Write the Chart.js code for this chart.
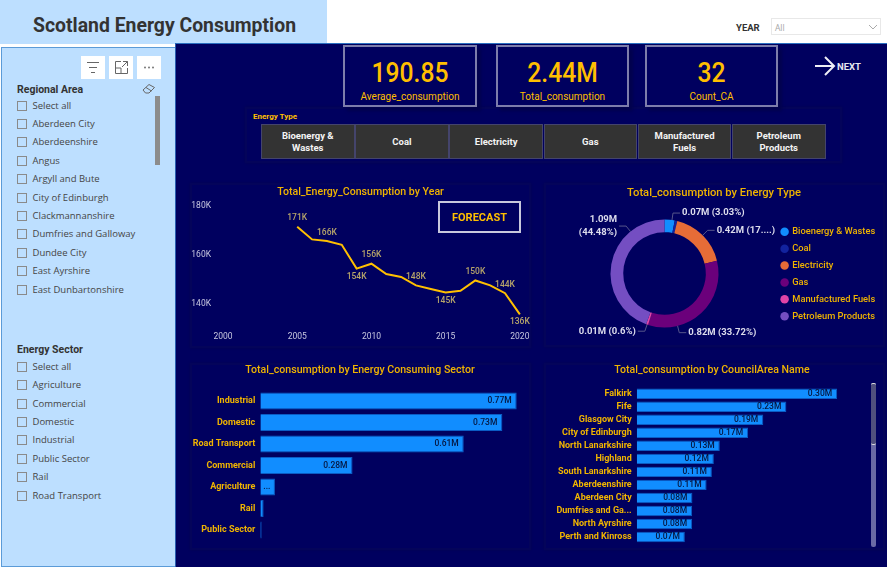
<!DOCTYPE html>
<html><head><meta charset="utf-8">
<script src="https://cdn.jsdelivr.net/npm/chart.js@4/dist/chart.umd.min.js"></script>
<style>
html,body{margin:0;padding:0;width:887px;height:567px;overflow:hidden;background:#fff;font-family:'Open Sans',sans-serif}
.a{position:absolute;box-sizing:border-box}
.t{position:absolute;white-space:nowrap;line-height:1}
canvas{position:absolute}
.panel{position:absolute;box-sizing:border-box;background:#00005f;border:2px solid #04045a;box-shadow:0 0 2px #05054f}
.card{position:absolute;box-sizing:border-box;top:45px;height:62px;background:#00005f;border:2px solid #7d7dab;box-shadow:4px 4px 3px #02024e;text-align:center;color:#ffbf00;font-family:Roboto}
.card b{display:block;font-weight:500;font-size:28px;line-height:28px;margin-top:12px;transform:scaleX(.88)}
.card span{display:block;font-size:10px;line-height:12px;margin-top:4px}
.btn{position:absolute;top:124px;height:35px;background:#333;border:1px solid #44446c;color:#f4f4f4;font:700 9.5px/12px Roboto;display:flex;align-items:center;justify-content:center;text-align:center;box-sizing:border-box;padding:0 12px}
.cb{position:absolute;left:17px;width:10px;height:10px;border:1px solid #8a8a8a;box-sizing:border-box}
.it{position:absolute;left:32.5px;font:9.5px/12px 'Open Sans';color:#454545;white-space:nowrap}
.hd{position:absolute;left:17px;font:700 10.5px/12px Roboto;color:#333;white-space:nowrap}
.ic{position:absolute;top:56px;width:24px;height:23px;background:#fff}
</style></head><body>
<div class="a" style="left:0;top:0;width:327px;height:44px;background:#bddfff"></div>
<div class="t" style="left:33px;top:16px;font:700 19.4px/20px Roboto;color:#333">Scotland Energy Consumption</div>
<div class="t" style="left:736px;top:22px;font:700 9.5px/11px Roboto;color:#333">YEAR</div>
<div class="a" style="left:771px;top:18px;width:110px;height:17px;border:1px solid #e8e8e8;background:#fff"></div>
<div class="t" style="left:775px;top:23px;font:8.5px/10px 'Open Sans';color:#a6a6a6">All</div>
<svg class="a" style="left:868px;top:24px" width="10" height="7"><path d="M1 1L5 5L9 1" fill="none" stroke="#aaa"/></svg>

<div class="a" style="left:1px;top:47px;width:175px;height:520px;background:#bddfff;border:1px solid #5b9bd8"></div>
<div id="slicers"></div>
<div class="ic" style="left:81px"><svg width="24" height="23"><path d="M6 6.5H18M8 11.5H16M10 16.5H14" stroke="#666" fill="none"/></svg></div>
<div class="ic" style="left:109px"><svg width="24" height="23"><path d="M12 5.5H6.5V17.5H18.500V12M6.500 12H12V17.500M14 5.500H18.500V10M18.500 5.500L13 11" stroke="#666" fill="none"/></svg></div>
<div class="ic" style="left:137px"><svg width="24" height="23"><circle cx="8" cy="11.500" r="1" fill="#777"/><circle cx="12" cy="11.500" r="1" fill="#777"/><circle cx="16" cy="11.500" r="1" fill="#777"/></svg></div>
<svg class="a" style="left:142px;top:83px" width="14" height="12"><path d="M1 7L7 1.500L12.500 4.500L7 10H3.500Z M4 4.500L9.500 8" fill="none" stroke="#666"/></svg>
<div class="a" style="left:155px;top:96px;width:5px;height:69px;background:#8c8c8c"></div>

<div class="a" style="left:175px;top:43px;width:712px;height:524px;background:#00005f;border-top:1px solid #2a6fc0;border-left:1px solid #2a5fb0"></div>
<div class="panel" style="left:190px;top:183px;width:341px;height:165px"></div>
<div class="panel" style="left:544px;top:183px;width:341px;height:164px"></div>
<div class="panel" style="left:190px;top:363px;width:341px;height:187px"></div>
<div class="panel" style="left:544px;top:363px;width:341px;height:187px"></div>
<div class="panel" style="left:245px;top:107px;width:597px;height:56px"></div>

<div class="card" style="left:343px;width:134px"><b>190.85</b><span>Average_consumption</span></div>
<div class="card" style="left:496px;width:133px"><b>2.44M</b><span>Total_consumption</span></div>
<div class="card" style="left:645px;width:133px"><b>32</b><span>Count_CA</span></div>
<div class="t" style="left:253px;top:112px;font:700 8px/9px Roboto;color:#ffbf00">Energy Type</div>
<div id="btns"></div>
<svg class="a" style="left:814px;top:55px" width="24" height="22"><path d="M1 11H20M11 2L20 11L11 20" fill="none" stroke="#eeeef6" stroke-width="2"/></svg>
<div class="t" style="left:837px;top:62px;font:700 9.500px/10px Roboto;color:#e6e6f0">NEXT</div>

<div class="a" style="left:438px;top:201px;width:83px;height:32px;border:2px solid #c8c8dc;color:#ffbf00;font:700 11px/29px Roboto;text-align:center;z-index:3">FORECAST</div>
<div class="a" style="left:870.500px;top:383px;width:5px;height:164px;background:#6a6aa6;border-radius:2px"></div>
<div class="a" style="left:870.500px;top:383px;width:5px;height:62px;background:#50507e;border:1px solid #ddd;border-width:1px 0;border-radius:2px"></div>

<canvas id="cLine" width="341" height="164" style="left:190px;top:183px"></canvas>
<canvas id="cDonut" width="340" height="164" style="left:544px;top:183px"></canvas>
<canvas id="cSector" width="340" height="185" style="left:190px;top:360px"></canvas>
<canvas id="cCouncil" width="336" height="190" style="left:544px;top:360px"></canvas>

<script>
// ---- data ----
const years = [2005,2006,2007,2008,2009,2010,2011,2012,2013,2014,2015,2016,2017,2018,2019,2020];
const yearValues = [171.4,166.3,165.6,164.1,154.4,156.4,152.2,151,147.6,146.1,144.7,145.4,149.6,147.6,144.4,135.8];
const yearLabelled = [2005,2007,2009,2010,2013,2015,2017,2019,2020];
const yearLabelledBelow = [2009,2015,2020];
const yearAxisX = [2000,2005,2010,2015,2020];
const yearAxisY = [140,160,180];

const energyTypes = ['Bioenergy & Wastes','Coal','Electricity','Gas','Manufactured Fuels','Petroleum Products'];
const energyValues = [0.074,0.019,0.424,0.823,0.0146,1.085];
const energyLabels = ['0.07M (3.03%)','','0.42M (17....)','0.82M (33.72%)','0.01M (0.6%)','1.09M\n(44.48%)'];
const energyColors = ['#118DFF','#12239E','#E66C37','#6B007B','#E044A7','#744EC2'];
const energyLeaderAngle = [8,null,45,166,null,321];

const sectors = ['Industrial','Domestic','Road Transport','Commercial','Agriculture','Rail','Public Sector'];
const sectorValues = [0.77,0.727,0.611,0.277,0.044,0.01,0.004];

const councils = ['Falkirk','Fife','Glasgow City','City of Edinburgh','North Lanarkshire','Highland','South Lanarkshire','Aberdeenshire','Aberdeen City','Dumfries and Ga...','North Ayrshire','Perth and Kinross'];
const councilValues = [0.304,0.227,0.192,0.169,0.126,0.117,0.114,0.106,0.0845,0.084,0.084,0.073];

const regionItems = ['Select all','Aberdeen City','Aberdeenshire','Angus','Argyll and Bute','City of Edinburgh','Clackmannanshire','Dumfries and Galloway','Dundee City','East Ayrshire','East Dunbartonshire'];
const sectorItems = ['Select all','Agriculture','Commercial','Domestic','Industrial','Public Sector','Rail','Road Transport'];
const energyButtons = ['Bioenergy & Wastes','Coal','Electricity','Gas','Manufactured Fuels','Petroleum Products'];

// ---- page furniture ----
const GOLD='#f0b400';
function slicer(title,items,headY,firstY){
  let h='<div class="hd" style="top:'+(headY-6)+'px">'+title+'</div>';
  items.forEach((s,i)=>{const y=firstY+i*18.4;
    h+='<div class="cb" style="top:'+(y-5)+'px"></div><div class="it" style="top:'+(y-6)+'px">'+s+'</div>';});
  return h;
}
document.getElementById('slicers').innerHTML=slicer('Regional Area',regionItems,90,105.5)+slicer('Energy Sector',sectorItems,349.5,366.7);
document.getElementById('btns').innerHTML=energyButtons.map((s,i)=>'<div class="btn" style="left:'+(261+i*94.2)+'px;width:93.500px">'+s.replace('&','&amp;')+'</div>').join('');

Chart.defaults.font.family='Roboto';
Chart.defaults.animation=false;
const titleOpt=(text,top,bottom,size)=>({display:true,text,color:GOLD,font:{size:size||10.6,weight:'500',family:'Roboto'},padding:{top,bottom}});
const noPad=s=>{s.paddingTop=s.paddingBottom=s.paddingLeft=s.paddingRight=0};

// ---- line ----
new Chart('cLine',{type:'line',
  data:{datasets:[{data:years.map((y,i)=>({x:y,y:yearValues[i]})),borderColor:'#ffc000',borderWidth:2,pointRadius:0,tension:0}]},
  options:{responsive:false,
    plugins:{legend:{display:false},tooltip:{enabled:false},title:titleOpt('Total_Energy_Consumption by Year',2.8,7.2)},
    scales:{
      x:{type:'linear',min:2000,max:2020.75,grid:{display:false,drawTicks:false},border:{display:false},
         afterBuildTicks:s=>{s.ticks=yearAxisX.map(v=>({value:v}))},
         afterFit:s=>{s.height=18.4;noPad(s)},
         ticks:{color:'#c8c8e0',font:{size:8.5},padding:3,maxRotation:0,autoSkip:false,callback:v=>String(v)}},
      y:{min:130,max:180,grid:{display:false,drawTicks:false},border:{display:false},
         afterBuildTicks:s=>{s.ticks=yearAxisY.map(v=>({value:v}))},
         afterFit:s=>{s.width=33;noPad(s)},
         ticks:{color:'#c8c8e0',font:{size:8.5},padding:12,callback:v=>v+'K'}}
    }},
  plugins:[{id:'yearLabels',afterDatasetsDraw(c){
    const g=c.ctx;g.save();g.font='500 8.5px Roboto';g.fillStyle='#b7a56a';g.textAlign='center';g.textBaseline='middle';
    yearLabelled.forEach(y=>{const i=years.indexOf(y),v=yearValues[i];
      const px=c.scales.x.getPixelForValue(y),py=c.scales.y.getPixelForValue(v);
      const below=yearLabelledBelow.includes(y);
      g.fillText(Math.round(v)+'K',px,py+(below?8:-8.500));});
    g.restore();}}]
});

// ---- doughnut ----
new Chart('cDonut',{type:'doughnut',
  data:{labels:energyTypes,datasets:[{data:energyValues,backgroundColor:energyColors,borderWidth:0,radius:54,cutout:'76.5%'}]},
  options:{responsive:false,
    plugins:{tooltip:{enabled:false},title:titleOpt('Total_consumption by Energy Type',3.5,0,11.2),
      legend:{position:'right',align:'center',labels:{color:GOLD,font:{size:9.300,weight:'500'},usePointStyle:true,pointStyle:'circle',boxWidth:6,boxHeight:6,padding:7.600}}}},
  plugins:[{id:'fixLegend',beforeUpdate(c){
      if(c.legend&&!c.legend.__p){c.legend.__p=1;const f=c.legend.fit;c.legend.fit=function(){f.call(this);this.width=99;};}
    },
    afterLayout(c){ c.legend.left-=11; c.legend.top+=9; c.legend.bottom+=9; },
    afterDatasetsDraw(c){
    const arcs=c.getDatasetMeta(0).data,g=c.ctx;g.save();
    g.font='700 9.500px Roboto';g.textBaseline='middle';
    arcs.forEach((a,i)=>{ if(!energyLabels[i])return;
      const mid=(a.startAngle+a.endAngle)/2;
      const ang=energyLeaderAngle[i]==null?mid:energyLeaderAngle[i]*Math.PI/180-Math.PI/2;
      const cx=a.x,cy=a.y,r=a.outerRadius;
      const x0=cx+Math.cos(ang)*r,y0=cy+Math.sin(ang)*r,x1=cx+Math.cos(ang)*(r+7),y1=cy+Math.sin(ang)*(r+7);
      const dir=Math.cos(ang)>=0?1:-1,x2=x1+dir*7;
      g.strokeStyle='#55558a';g.lineWidth=1;g.beginPath();g.moveTo(x0,y0);g.lineTo(x1,y1);g.lineTo(x2,y1);g.stroke();
      g.fillStyle='#dcdcec';g.textAlign=dir>0?'left':'right';
      const ls=energyLabels[i].split('\n');
      ls.forEach((s,k)=>g.fillText(s,x2+dir*2,y1+(k-(ls.length-1)/2)*13));
    });g.restore();}}]
});

// ---- bars ----
function barChart(id,labels,values,max,yW,title,tTop,tBottom,barPct,bottomPad){
  return new Chart(id,{type:'bar',
    data:{labels,datasets:[{data:values,backgroundColor:'#118DFF',borderColor:'#0b5cc4',borderWidth:1,barPercentage:barPct,categoryPercentage:1}]},
    options:{indexAxis:'y',responsive:false,layout:{padding:{bottom:bottomPad}},
      plugins:{legend:{display:false},tooltip:{enabled:false},title:titleOpt(title,tTop,tBottom)},
      scales:{
        x:{display:false,min:0,max},
        y:{grid:{display:false,drawTicks:false},border:{display:false},afterFit:s=>{s.width=yW;noPad(s)},
           ticks:{color:GOLD,font:{size:9,weight:'700'},padding:5,autoSkip:false}}
      }},
    plugins:[{id:'vals',afterDatasetsDraw(c){
      const g=c.ctx,els=c.getDatasetMeta(0).data;g.save();g.font='500 8.5px Roboto';g.fillStyle='#06163f';g.textBaseline='middle';
      els.forEach((b,i)=>{const w=b.x-c.scales.x.left;
        if(w>30){g.textAlign='right';g.fillText(values[i].toFixed(2)+'M',b.x-5,b.y);}
        else if(w>10){g.textAlign='left';g.fillText('...',c.scales.x.left+3,b.y);}
      });g.restore();}}]
  });
}
barChart('cSector',sectors,sectorValues,0.81,70.3,'Total_consumption by Energy Consuming Sector',3.5,14,0.79,4.2);
barChart('cCouncil',councils,councilValues,0.369,92.7,'Total_consumption by CouncilArea Name',3.5,11,0.8,6.5);
</script>
</body></html>
